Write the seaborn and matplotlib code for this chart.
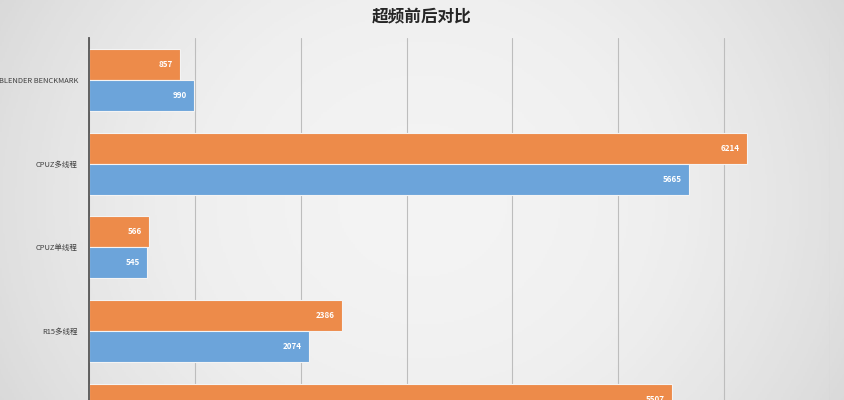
import numpy as np
import pandas as pd
import matplotlib
matplotlib.use("Agg")
import matplotlib.pyplot as plt
import seaborn as sns

# data (last group is mostly cut off at the bottom)
tests = ["BLENDER BENCKMARK", "CPUZ多线程", "CPUZ单线程", "R15多线程", "R20多线程"]
after_oc = [857, 6214, 566, 2386, 5507]
before_oc = [990, 5665, 545, 2074, 4990]
series = ["超频后", "超频前"]
colors = ["#ED8B4A", "#6CA4DA"]

df = pd.DataFrame({
    "test": tests * 2,
    "score": after_oc + before_oc,
    "state": [series[0]] * len(tests) + [series[1]] * len(tests),
})

sns.set_theme(style="white")
plt.rcParams['font.family'] = ['Noto Sans CJK SC', 'DejaVu Sans']

fig = plt.figure(figsize=(8.45, 4.0), dpi=100)

# soft grey background, lighter in the middle
bg = fig.add_axes([0, 0, 1, 1], zorder=-10)
xx = np.linspace(-1, 1, 400)
yy = np.linspace(-1, 1, 200)
X, Y = np.meshgrid(xx, yy)
shade = 1 - 0.55 * X ** 2 - 0.15 * Y ** 2
bg.imshow(shade, cmap="Greys_r", vmin=-3.2, vmax=1.45, aspect="auto",
          extent=[0, 1, 0, 1])
bg.axis("off")

# axes runs past the bottom of the picture, like the cropped original
ax = fig.add_axes([89 / 845, (400 - 456.5) / 400, 741 / 845, 418.5 / 400])
ax.patch.set_alpha(0)

sns.barplot(data=df, y="test", x="score", hue="state", palette=colors,
            hue_order=series, order=tests, width=0.74, gap=0.0,
            saturation=1, edgecolor="#f4f4f4", linewidth=0.8,
            legend=False, ax=ax, zorder=3)

for cont in ax.containers:
    labels = ax.bar_label(cont, padding=-5, color="white", fontsize=5.8,
                          fontweight="bold")
    for t in labels:
        t.set_ha("right")

ax.set_xlim(0, 7000)
ax.set_xticks(range(0, 7001, 1000))
ax.set_xticklabels([])
ax.tick_params(axis="x", length=0)
ax.tick_params(axis="y", length=0, labelsize=5.4, labelcolor="#404040", pad=8)
ax.grid(axis="x", color="#bdbdbd", linewidth=0.8, zorder=0)
ax.set_axisbelow(True)
ax.set_xlabel("")
ax.set_ylabel("")
for side in ["top", "right", "bottom"]:
    ax.spines[side].set_visible(False)
ax.spines["left"].set_color("#555555")
ax.spines["left"].set_linewidth(1.3)
ax.spines["left"].set_zorder(5)

fig.text(422 / 845, 1 - 16 / 400, "超频前后对比", ha="center", va="center",
         fontsize=12, fontweight="bold", color="#262626")

fig.savefig("out.png", dpi=100)
